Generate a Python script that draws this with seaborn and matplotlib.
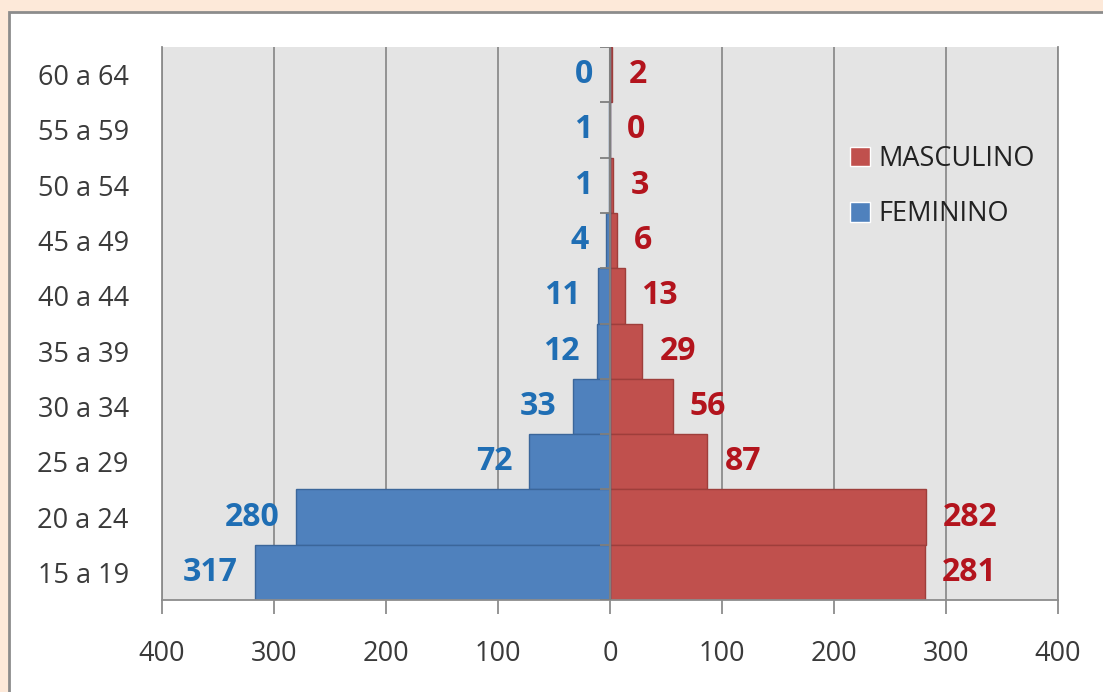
import matplotlib.pyplot as plt
import seaborn as sns
import pandas as pd
import numpy as np

# Faixas etárias (de baixo para cima)
faixas = ['15 a 19', '20 a 24', '25 a 29', '30 a 34', '35 a 39',
          '40 a 44', '45 a 49', '50 a 54', '55 a 59', '60 a 64']
masculino = [281, 282, 87, 56, 29, 13, 6, 3, 0, 2]
feminino = [317, 280, 72, 33, 12, 11, 4, 1, 1, 0]
x_ticks = [-400, -300, -200, -100, 0, 100, 200, 300, 400]

cor_masc = '#C0504D'
cor_fem = '#4F81BD'
borda_masc = '#9E3E3B'
borda_fem = '#3B669A'
txt_masc = '#B3141D'
txt_fem = '#1F6EB4'
cinza = '#8C8C8C'

df = pd.DataFrame({
    'faixa': faixas * 2,
    'valor': masculino + [-v for v in feminino],
    'sexo': ['MASCULINO'] * len(faixas) + ['FEMININO'] * len(faixas),
})
ordem = faixas[::-1]

sns.set_theme(style='white')
plt.rcParams['font.family'] = ['Open Sans', 'DejaVu Sans']

W, H = 1103, 692
fig = plt.figure(figsize=(W / 100, H / 100), dpi=100, facecolor='#FDE9D9')

# caixa branca do gráfico
caixa = plt.Rectangle((9 / W, -0.1), 1.2, 1 - 12 / H + 0.1,
                      transform=fig.transFigure, facecolor='white',
                      edgecolor=cinza, linewidth=2, zorder=-10)
fig.patches.append(caixa)

ax = fig.add_axes([162 / W, 1 - 600 / H, (1058 - 162) / W, (600 - 47) / H])
ax.set_zorder(1)

sns.barplot(data=df, x='valor', y='faixa', hue='sexo', order=ordem,
            hue_order=['MASCULINO', 'FEMININO'], palette=[cor_masc, cor_fem],
            dodge=False, width=1, saturation=1, orient='h', ax=ax, zorder=2)

for cont, borda in zip(ax.containers, [borda_masc, borda_fem]):
    for bar in cont:
        bar.set_edgecolor(borda)
        bar.set_linewidth(1)

ax.set_xlim(-400, 400)
ax.set_ylim(len(faixas) - 0.5, -0.5)
ax.set_xticks(x_ticks)
ax.set_xticklabels([str(abs(t)) for t in x_ticks])
ax.set_xlabel('')
ax.set_ylabel('')
ax.set_facecolor('#E4E4E4')
ax.set_axisbelow(True)
ax.grid(axis='x', color=cinza, linewidth=1.3)
ax.grid(axis='y', visible=False)

for s in ['left', 'right', 'bottom']:
    ax.spines[s].set_color(cinza)
    ax.spines[s].set_linewidth(1.3)
ax.spines['top'].set_visible(False)

ax.tick_params(axis='x', length=10, width=1.3, color=cinza, direction='out',
               pad=19, labelsize=19.5, labelcolor='#3A3A3A', bottom=True)
ax.tick_params(axis='y', length=0, pad=24, labelsize=19.5, labelcolor='#3A3A3A')

# eixo vertical no zero com marcas entre as faixas
ax.axvline(0, color='#7F7F7F', linewidth=1.5, zorder=3)
ax.hlines(np.arange(len(faixas) + 1) - 0.5, -9, 1, color='#7F7F7F',
          linewidth=1.3, zorder=3)

# rótulos de dados
for f, m, w in zip(faixas, masculino, feminino):
    y = ordem.index(f)
    ax.annotate(str(m), (m, y), xytext=(12.2, 0), textcoords='offset points',
                ha='left', va='center', fontsize=23, fontweight='bold',
                color=txt_masc, zorder=4)
    ax.annotate(str(w), (-w, y), xytext=(-12.2, 0), textcoords='offset points',
                ha='right', va='center', fontsize=23, fontweight='bold',
                color=txt_fem, zorder=4)

handles, labels = ax.get_legend_handles_labels()
ax.legend(handles, labels, loc='upper left',
          bbox_to_anchor=(850 / W, 1 - 145 / H), bbox_transform=fig.transFigure,
          frameon=False, fontsize=19.5, handlelength=0.75, handleheight=0.75,
          handletextpad=0.3, labelspacing=1.0, borderpad=0, borderaxespad=0,
          labelcolor='#222222')

fig.savefig('out.png', dpi=100, facecolor=fig.get_facecolor())
